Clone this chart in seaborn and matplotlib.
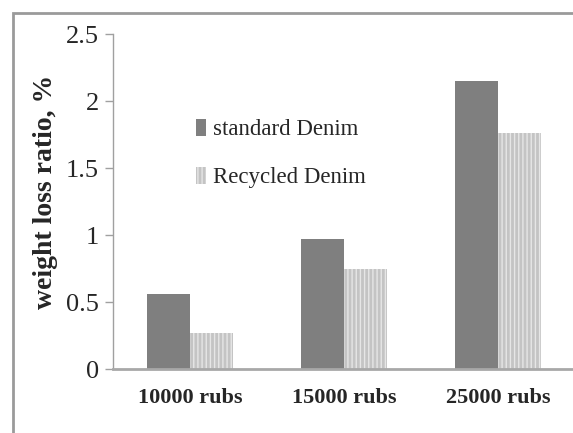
import pandas as pd
import matplotlib.pyplot as plt
import seaborn as sns
from matplotlib.patches import Rectangle

sns.set_theme(style="white")
plt.rcParams['font.family'] = ['Liberation Serif', 'DejaVu Serif']

rubs = ["10000 rubs", "15000 rubs", "25000 rubs"]
standard = [0.56, 0.97, 2.15]
recycled = [0.27, 0.75, 1.76]

df = pd.DataFrame({
    "rubs": rubs * 2,
    "loss": standard + recycled,
    "type": ["standard Denim"] * 3 + ["Recycled Denim"] * 3,
})

fig = plt.figure(figsize=(5.73, 4.33), dpi=100)
ax = fig.add_axes([113 / 573, 64 / 433, 462 / 573, 334.7 / 433])

sns.barplot(data=df, x="rubs", y="loss", hue="type", ax=ax,
            palette=["#7f7f7f", "#c4c4c4"], width=0.56, gap=0,
            saturation=1, linewidth=0, legend=False)

# stippled look on the recycled bars
for bar in ax.containers[1]:
    bar.set_hatch("||||")
    bar.set_edgecolor("#e6e6e6")
    bar.set_linewidth(0)

ax.set_ylim(0, 2.5)
ax.set_yticks([0, 0.5, 1, 1.5, 2, 2.5])
ax.set_yticklabels(["0", "0.5", "1", "1.5", "2", "2.5"], fontsize=19)
ax.set_xlim(-0.5, 2.5)
ax.tick_params(axis="x", labelsize=16, length=0, pad=14)
ax.tick_params(axis="y", length=6, width=1, color="#a0a0a0", pad=4, left=True)
for lab in ax.get_xticklabels():
    lab.set_fontweight("bold")
ax.set_xlabel("")
ax.set_ylabel("weight loss ratio, %", fontsize=20, fontweight="bold")
ax.yaxis.set_label_coords(-0.12, 0.53)

for side in ["top", "right"]:
    ax.spines[side].set_visible(False)
ax.spines["left"].set_color("#a0a0a0")
ax.spines["left"].set_linewidth(1)
ax.spines["bottom"].set_color("#a8a8a8")
ax.spines["bottom"].set_linewidth(2)

handles = [Rectangle((0, 0), 1, 1, facecolor="#7f7f7f", linewidth=0),
           Rectangle((0, 0), 1, 1, facecolor="#c4c4c4", hatch="||||",
                     edgecolor="#e6e6e6", linewidth=0)]
ax.legend(handles, ["standard Denim", "Recycled Denim"], frameon=False,
          loc="upper left", bbox_to_anchor=(0.135, 0.81), fontsize=16.5,
          handlelength=0.45, handleheight=0.8, handletextpad=0.3,
          labelspacing=1.15)

# outer grey frame of the chart area
fig.patches.append(Rectangle((12.8 / 573, -0.1), 1.2, (433 - 13.3) / 433 + 0.1,
                             transform=fig.transFigure, fill=False,
                             edgecolor="#9a9a9a", linewidth=2))

fig.savefig("out.png", dpi=100)
